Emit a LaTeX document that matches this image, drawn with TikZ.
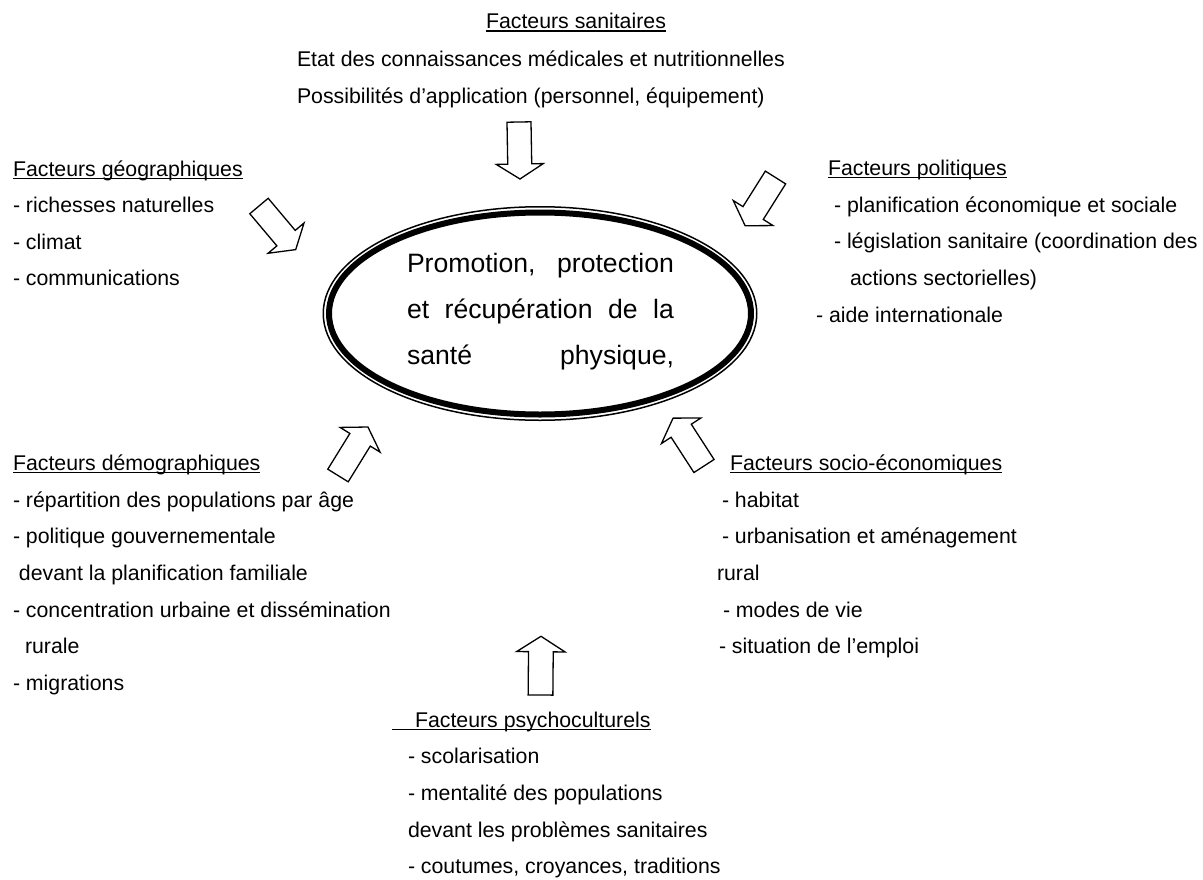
\documentclass[tikz,border=0pt]{standalone}
\usepackage{fontspec}
\setmainfont{Liberation Sans}
\usetikzlibrary{shapes.geometric}
\newcommand\sidefont{\fontsize{21.3pt}{25pt}\selectfont}
\newcommand\corefont{\fontsize{26.6pt}{31pt}\selectfont}
\tikzset{
  txt/.style={anchor=base west, inner sep=0pt, outer sep=0pt, font=\sidefont},
  coretxt/.style={anchor=base west, inner sep=0pt, outer sep=0pt, font=\corefont},
  uline/.style={line width=1.4pt},
  arrowline/.style={line width=1.3pt, line join=miter, fill=white},
  barrow/.pic={\draw[arrowline] (0,-12) -- (42,-12) -- (42,-23.5) -- (57,0) -- (42,23.5) -- (42,12) -- (0,12) -- cycle;}
}
\begin{document}
\begin{tikzpicture}[x=1pt,y=-1pt]
\useasboundingbox[fill=white] (0,0) rectangle (1203,879);

% central double ellipse
\node[ellipse, draw, line width=1.5pt, minimum width=433.5pt, minimum height=213.5pt, inner sep=0pt] (core) at (540,313.5) {};
\node[ellipse, draw, line width=6pt, minimum width=422pt, minimum height=202pt, inner sep=0pt] (coreinner) at (540,313.5) {};
\node[coretxt] (c1) at (407,272) {\makebox[267pt][s]{Promotion, protection}};
\node[coretxt] (c2) at (407,318) {\makebox[267pt][s]{et récupération de la}};
\node[coretxt] (c3) at (407,364) {\makebox[267pt][s]{santé physique,}};

% Facteurs sanitaires
\node[txt] (sanh) at (486,28.5) {Facteurs sanitaires};
\draw[uline] ([yshift=-2.6pt]sanh.base west) -- ([yshift=-2.6pt]sanh.base east);
\node[txt] (san1) at (297,66) {Etat des connaissances médicales et nutritionnelles};
\node[txt] (san2) at (297,103) {Possibilités d’application (personnel, équipement)};

% Facteurs géographiques
\node[txt] (geoh) at (13,176) {Facteurs géographiques};
\draw[uline] ([yshift=-2.6pt]geoh.base west) -- ([yshift=-2.6pt]geoh.base east);
\node[txt] (geo1) at (13,212) {- richesses naturelles};
\node[txt] (geo2) at (13,249) {- climat};
\node[txt] (geo3) at (13,285) {- communications};

% Facteurs politiques
\node[txt] (polh) at (828,175) {Facteurs politiques};
\draw[uline] ([yshift=-2.6pt]polh.base west) -- ([yshift=-2.6pt]polh.base east);
\node[txt] (pol1) at (834,212) {- planification économique et sociale};
\node[txt] (pol2) at (834,248) {- législation sanitaire (coordination des};
\node[txt] (pol3) at (850,285) {actions sectorielles)};
\node[txt] (pol4) at (816,322) {- aide internationale};

% Facteurs démographiques
\node[txt] (demh) at (13,470) {Facteurs démographiques};
\draw[uline] ([yshift=-2.6pt]demh.base west) -- ([yshift=-2.6pt]demh.base east);
\node[txt] (dem1) at (13,507) {- répartition des populations par âge};
\node[txt] (dem2) at (13,543) {- politique gouvernementale};
\node[txt] (dem3) at (19,580) {devant la planification familiale};
\node[txt] (dem4) at (13,617) {- concentration urbaine et dissémination};
\node[txt] (dem5) at (25,653) {rurale};
\node[txt] (dem6) at (13,690) {- migrations};

% Facteurs socio-économiques
\node[txt] (soch) at (730,470) {Facteurs socio-économiques};
\draw[uline] ([yshift=-2.6pt]soch.base west) -- ([yshift=-2.6pt]soch.base east);
\node[txt] (soc1) at (722,507) {- habitat};
\node[txt] (soc2) at (722,543) {- urbanisation et aménagement};
\node[txt] (soc3) at (717,580) {rural};
\node[txt] (soc4) at (723,617) {- modes de vie};
\node[txt] (soc5) at (719,653) {- situation de l’emploi};

% Facteurs psychoculturels
\node[txt] (psyh) at (415,727) {Facteurs psychoculturels};
\draw[uline] ([xshift=-23pt,yshift=-2.6pt]psyh.base west) -- ([yshift=-2.6pt]psyh.base east);
\node[txt] (psy1) at (408,763) {- scolarisation};
\node[txt] (psy2) at (408,800) {- mentalité des populations};
\node[txt] (psy3) at (408,837) {devant les problèmes sanitaires};
\node[txt] (psy4) at (408,873) {- coutumes, croyances, traditions};

% block arrows (tail position, direction)
\pic[rotate=-89] at (519,122) {barrow};
\pic[rotate=-49.9] at (259,206) {barrow};
\pic[rotate=-122.2] at (775.5,177.5) {barrow};
\pic[rotate=58.3] at (338,475.5) {barrow};
\pic[rotate=122.9] at (704,466) {barrow};
\pic[rotate=89.5,scale=1.03] at (540.5,695) {barrow};
\end{tikzpicture}
\end{document}
